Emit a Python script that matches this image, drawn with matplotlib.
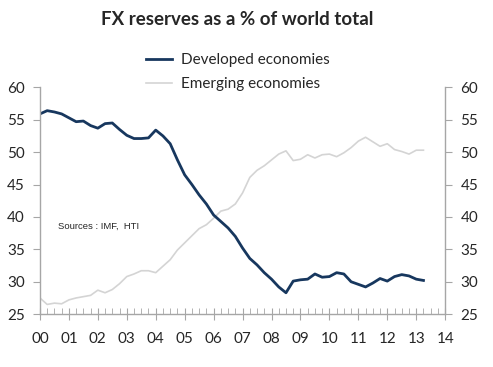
import matplotlib.pyplot as plt
import numpy as np

# quarterly data, 2000Q1 - 2013Q2
developed = [55.9, 56.4, 56.2, 55.9, 55.3, 54.7, 54.8, 54.1, 53.7, 54.4, 54.5, 53.5,
             52.6, 52.1, 52.1, 52.2, 53.4, 52.5, 51.3, 48.8, 46.5, 45.0, 43.4, 42.0,
             40.3, 39.3, 38.3, 37.0, 35.2, 33.6, 32.6, 31.4, 30.4, 29.2, 28.3, 30.1,
             30.3, 30.4, 31.2, 30.7, 30.8, 31.4, 31.2, 30.0, 29.6, 29.2, 29.8, 30.5,
             30.1, 30.8, 31.1, 30.9, 30.4, 30.2]
emerging = [27.5, 26.5, 26.7, 26.6, 27.2, 27.5, 27.7, 27.9, 28.7, 28.3, 28.8, 29.7,
            30.8, 31.2, 31.7, 31.7, 31.4, 32.4, 33.4, 34.9, 36.0, 37.1, 38.2, 38.8,
            39.8, 40.9, 41.2, 42.0, 43.7, 46.1, 47.2, 47.9, 48.8, 49.7, 50.2, 48.7,
            48.9, 49.6, 49.1, 49.6, 49.7, 49.3, 49.9, 50.7, 51.7, 52.3, 51.6, 50.9,
            51.3, 50.4, 50.1, 49.7, 50.3, 50.3]
t = np.arange(len(developed)) / 4.0
year_labels = ['00', '01', '02', '03', '04', '05', '06', '07', '08', '09', '10', '11', '12', '13', '14']

plt.rcParams['font.family'] = ['Lato', 'DejaVu Sans']
axis_col = '#a6a6a6'
txt_col = '#262626'

fig = plt.figure(figsize=(4.93, 3.67), dpi=100)
ax = fig.add_axes([0.081, 0.144, 0.822, 0.618])

ax.plot(t, emerging, color='#d4d4d4', lw=1.2, label='Emerging economies')
ax.plot(t, developed, color='#17375e', lw=2.0, label='Developed economies')

ax.set_xlim(0, 14)
ax.set_ylim(25, 60)
ax.set_xticks(range(15))
ax.set_xticklabels(year_labels)
ax.set_xticks(np.arange(0, 14.01, 0.25), minor=True)
ax.set_yticks(range(25, 61, 5))

ax.spines['top'].set_visible(False)
for s in ['left', 'right', 'bottom']:
    ax.spines[s].set_color(axis_col)
    ax.spines[s].set_linewidth(1.0)

ax.tick_params(axis='x', which='major', direction='inout', length=8, color=axis_col,
               labelsize=11, labelcolor=txt_col, pad=9)
ax.tick_params(axis='x', which='minor', direction='in', length=4, color=axis_col)
ax.tick_params(axis='y', which='major', direction='out', length=5, color=axis_col,
               labelsize=11, labelcolor=txt_col, left=True, right=True,
               labelleft=True, labelright=True, pad=6)

ax.text(0.62, 38.6, 'Sources : IMF,  HTI', fontsize=6.8, color=txt_col,
        family='Liberation Sans', va='center')

handles, labels = ax.get_legend_handles_labels()
fig.legend(handles[::-1], labels[::-1], loc='center', bbox_to_anchor=(0.482, 0.803),
           frameon=False, fontsize=11, labelcolor=txt_col, handlelength=1.7,
           handletextpad=0.6, labelspacing=0.65)

fig.text(0.482, 0.948, 'FX reserves as a % of world total', ha='center', va='center',
         fontsize=13.5, fontweight='bold', color=txt_col)

fig.savefig('out.png', dpi=100)
